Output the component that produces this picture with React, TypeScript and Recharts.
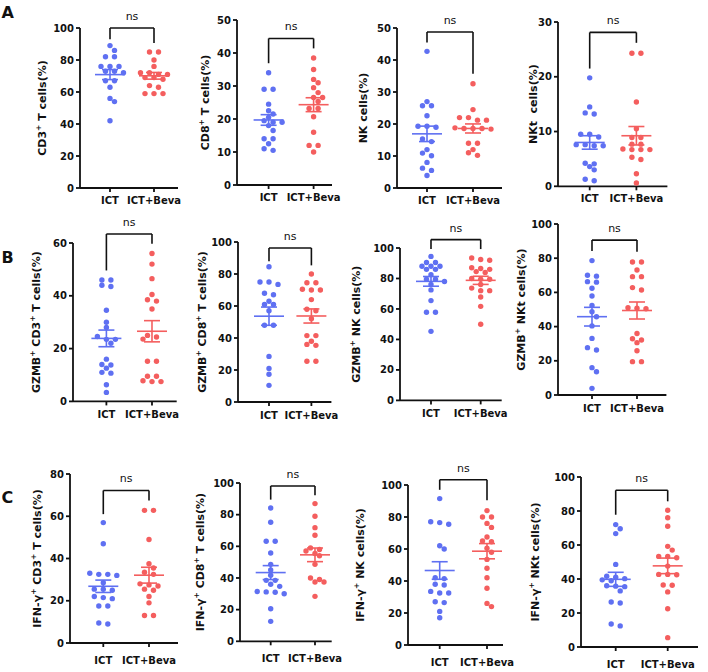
import React from 'react';
import { ScatterChart, Scatter, XAxis, YAxis, ReferenceLine } from 'recharts';

// ---- groups ----
const GROUPS = ['ICT', 'ICT+Beva'];

// ---- row A: lymphocyte subsets (%) ----
const cd3Ict = [89, 86, 82, 82, 76, 76, 76, 73, 73, 72, 67, 67, 63, 56, 54, 42];
const cd3Beva = [85, 85, 80, 76, 72, 72, 71, 71, 69, 69, 68, 64, 63, 59, 59, 59];
const cd8Ict = [34, 29, 29, 24.5, 22.5, 21.5, 20.5, 19.5, 19, 19, 18, 16.5, 14, 14, 12.5, 11, 10.5];
const cd8Beva = [38.5, 35, 32, 31, 29.5, 28, 26.5, 26.5, 25.3, 23.2, 23.2, 20.7, 16, 12, 12, 10];
const nkIct = [42.7, 27, 25.7, 25.7, 22.6, 19.3, 19.3, 19, 15.3, 14.5, 12, 10.9, 10.1, 8, 6.2, 5.5, 3.9];
const nkBeva = [32.6, 24.5, 22, 22, 21.2, 21.2, 18.8, 18.6, 18.6, 18.6, 18.4, 14, 14, 12, 11, 10.2];
const nktIct = [19.8, 14.5, 13.4, 13.2, 9.5, 9.5, 9, 7.6, 7.4, 7.4, 7.6, 4.2, 3.6, 4.1, 3, 1, 1.3];
const nktBeva = [24.3, 24.3, 15.4, 10.5, 8.9, 8.9, 7.7, 7.7, 6.7, 6.7, 6.8, 6.7, 5.3, 4.9, 2.3, 0.6];

// ---- row B: GZMB+ fractions (%) ----
const gzCd3Ict = [46, 46, 44, 43.5, 34.5, 30, 28, 24.6, 23.5, 23.5, 22, 16, 14, 13.8, 12.6, 11, 10.7, 6.3, 3.4];
const gzCd3Beva = [56, 52, 46.5, 40.5, 38.5, 38, 35, 25, 24.4, 23.6, 15.2, 15.2, 9.5, 9.5, 7.5, 7.8, 7.5];
const gzCd8Ict = [84.5, 75, 75, 73.5, 68, 67, 63, 61, 61, 57, 48, 48, 28.5, 21, 17.3, 10.4];
const gzCd8Beva = [80, 74.5, 74.5, 70, 70, 70.5, 64, 57, 58, 52, 41.5, 41.5, 38, 36, 35.4, 25.5, 25.5];
const gzNkIct = [94.5, 90.5, 90.5, 88, 88, 88, 86, 86, 82.5, 79.5, 79.5, 78, 76, 72.5, 65.5, 57.8, 57.8, 45.3];
const gzNkBeva = [93.4, 92.5, 92, 87, 86.5, 86, 84.5, 84, 80, 79.5, 79.5, 76, 73.7, 72, 72, 67.8, 61.7, 50];
const gzNktIct = [78.6, 70, 69.5, 66.3, 66, 62.4, 57.9, 52.4, 48.7, 45.8, 40.4, 33.1, 27.7, 26.3, 16, 13.6, 3.9];
const gzNktBeva = [77.8, 77.8, 73.1, 69.2, 69.2, 62.8, 61.4, 51, 50.7, 50.4, 36, 32.2, 32.9, 30.6, 25.9, 19.5, 19.5];

// ---- row C: IFN-γ+ fractions (%) ----
const ifCd3Ict = [57, 47, 33, 32.5, 32.5, 32, 28.5, 25.5, 25.5, 25, 21.5, 22, 21, 17.5, 17.5, 9, 9.5];
const ifCd3Beva = [62.8, 62.8, 49, 37.5, 35.5, 33.5, 32.5, 28, 27.5, 27, 25.5, 25, 22, 19, 13, 13];
const ifCd8Ict = [84.2, 75.2, 63.2, 63.2, 55.8, 48.6, 45, 41.7, 38.5, 38.5, 36, 34.7, 31.2, 30, 31, 31.5, 20.6, 12.6];
const ifCd8Beva = [87, 79, 71.8, 67, 58, 59, 57, 55.5, 54, 48.6, 40, 37.5, 37.5, 39, 28.4];
const ifNkIct = [91.5, 77, 76.5, 75.5, 62, 60, 42, 41.5, 38, 37.5, 32.5, 32.5, 33.5, 27, 26.5, 21, 17];
const ifNkBeva = [84, 80, 80, 76, 73.5, 67.5, 65, 64.5, 60.5, 58, 53.5, 48, 42, 35.5, 24, 26];
const ifNktIct = [72, 69.6, 66.7, 48.6, 41.6, 41, 40.2, 39.5, 39, 36, 35.5, 35.8, 33, 26.5, 25.9, 12.4, 13.5];
const ifNktBeva = [80.4, 76, 71, 57, 59.2, 53.3, 53.3, 52.5, 47.6, 42.7, 42.7, 42.5, 36.3, 36.5, 32.4, 22.5, 5.5];

// ---- axis ticks ----
const ticks100 = [0, 20, 40, 60, 80, 100];
const ticks80 = [0, 20, 40, 60, 80];
const ticks60 = [0, 20, 40, 60];
const ticks50 = [0, 10, 20, 30, 40, 50];
const ticks30 = [0, 10, 20, 30];

// comparison brackets: [bar level, left leg end, right leg end]
const bracketsA = [[100, 93, 90.6], [44.4, 36.9, 41.4], [48.75, 45.5, 35.7], [28.1, 21.5, 26.2]];
const bracketsB = [[63.4, 49.6, 59.7], [96.25, 87.9, 85.4], [105.5, 99.3, 99.3], [90.6, 84.2, 83.8]];
const bracketsC = [[72.2, 61, 67.5], [98.1, 89.5, 92.2], [103.3, 97, 90.4], [92.2, 77.8, 85.7]];

const PANELS = [
  { title: 'CD3⁺ T cells(%)', ticks: ticks100, ict: cd3Ict, beva: cd3Beva, bracket: bracketsA[0] },
  { title: 'CD8⁺ T cells(%)', ticks: ticks50, ict: cd8Ict, beva: cd8Beva, bracket: bracketsA[1] },
  { title: 'NK cells(%)', ticks: ticks50, ict: nkIct, beva: nkBeva, bracket: bracketsA[2] },
  { title: 'NKt  cells(%)', ticks: ticks30, ict: nktIct, beva: nktBeva, bracket: bracketsA[3] },
  { title: 'GZMB⁺ CD3⁺ T cells(%)', ticks: ticks60, ict: gzCd3Ict, beva: gzCd3Beva, bracket: bracketsB[0] },
  { title: 'GZMB⁺ CD8⁺ T cells(%)', ticks: ticks100, ict: gzCd8Ict, beva: gzCd8Beva, bracket: bracketsB[1] },
  { title: 'GZMB⁺ NK cells(%)', ticks: ticks100, ict: gzNkIct, beva: gzNkBeva, bracket: bracketsB[2] },
  { title: 'GZMB⁺ NKt cells(%)', ticks: ticks100, ict: gzNktIct, beva: gzNktBeva, bracket: bracketsB[3] },
  { title: 'IFN-γ⁺ CD3⁺ T cells(%)', ticks: ticks80, ict: ifCd3Ict, beva: ifCd3Beva, bracket: bracketsC[0] },
  { title: 'IFN-γ⁺ CD8⁺ T cells(%)', ticks: ticks100, ict: ifCd8Ict, beva: ifCd8Beva, bracket: bracketsC[1] },
  { title: 'IFN-γ⁺ NK cells(%)', ticks: ticks100, ict: ifNkIct, beva: ifNkBeva, bracket: bracketsC[2] },
  { title: 'IFN-γ⁺ NKt cells(%)', ticks: ticks100, ict: ifNktIct, beva: ifNktBeva, bracket: bracketsC[3] },
];

// page geometry of each panel (pixels): y-axis x, x-axis end, group centres, top tick, zero, title gap, x tick gap
const FRAMES = [
  { axisX: 80, rightX: 178, ictX: 110, bevaX: 154, topY: 28.3, zeroY: 188.3, titleGap: 38, tickGap: 4.5 },
  { axisX: 236.7, rightX: 331.7, ictX: 268.3, bevaX: 313.3, topY: 20, zeroY: 185, titleGap: 32, tickGap: 4.5 },
  { axisX: 396.7, rightX: 501.7, ictX: 426.7, bevaX: 472.7, topY: 28.3, zeroY: 188.3, titleGap: 34, tickGap: 4.5 },
  { axisX: 558.3, rightX: 667.7, ictX: 590, bevaX: 636.7, topY: 21.7, zeroY: 186, titleGap: 25, tickGap: 4.5 },
  { axisX: 73.3, rightX: 177, ictX: 106.7, bevaX: 152.3, topY: 243.3, zeroY: 401.7, titleGap: 37, tickGap: 5.5 },
  { axisX: 238.3, rightX: 331.7, ictX: 269.3, bevaX: 311.7, topY: 241.7, zeroY: 401.7, titleGap: 36, tickGap: 5.5 },
  { axisX: 400, rightX: 501.7, ictX: 431, bevaX: 480.7, topY: 248.3, zeroY: 400.7, titleGap: 44, tickGap: 5.5 },
  { axisX: 558.3, rightX: 666.7, ictX: 592.3, bevaX: 637.3, topY: 224, zeroY: 395, titleGap: 36.7, tickGap: 5.5 },
  { axisX: 70, rightX: 178, ictX: 103.3, bevaX: 149, topY: 474.3, zeroY: 643.3, titleGap: 33, tickGap: 10 },
  { axisX: 240, rightX: 331.7, ictX: 270.7, bevaX: 315, topY: 482.7, zeroY: 641, titleGap: 40, tickGap: 10 },
  { axisX: 408.3, rightX: 503.3, ictX: 440, bevaX: 487.3, topY: 485.3, zeroY: 645.3, titleGap: 48, tickGap: 10 },
  { axisX: 581, rightX: 698, ictX: 615.7, bevaX: 667.7, topY: 476.7, zeroY: 646.7, titleGap: 46, tickGap: 10 },
];

const LETTERS = [
  { text: 'A', left: 1.5, top: 4.8 },
  { text: 'B', left: 1.5, top: 249.8 },
  { text: 'C', left: 1.5, top: 490 },
];

const BLUE = '#5F70F2';
const RED = '#F45E5E';
const INK = '#111111';
const FONT = '"DejaVu Sans", "Liberation Sans", Arial, sans-serif';

const DOT_R = 2.7;
const STEP_PX = 9;
const ROW_PX = 3;
const MIN_DIST = 5;
const MEAN_HALF_PX = 15;
const SEM_HALF_PX = 8;

const M_TOP = 32;
const M_LEFT = 30;
const Y_W = 30;
const M_RIGHT = 32;
const X_H = 32;
const M_BOTTOM = 4;

// Prism-style dot layout: near-equal values share a row, spread symmetrically
function swarm(values: number[], pxPerY: number, pxPerX: number, center: number) {
  const sorted = [...values].sort((a, b) => b - a);
  const rows: number[][] = [];
  for (const v of sorted) {
    const last = rows[rows.length - 1];
    if (last && (last[0] - v) * pxPerY < ROW_PX) last.push(v);
    else rows.push([v]);
  }
  const placed: { dx: number; py: number }[] = [];
  const out: { x: number; y: number }[] = [];
  const s = STEP_PX;
  const h = s / 2;
  for (const row of rows) {
    const n = row.length;
    const layouts: number[][] = [];
    for (const spread of [1, 1.5, 2]) {
      const base = row.map((_, i) => (i - (n - 1) / 2) * s * spread);
      for (const shift of [0, h, -h, s, -s, 1.5 * s, -1.5 * s]) layouts.push(base.map((b) => b + shift));
    }
    const fits = (lay: number[]) =>
      lay.every((dx, i) => placed.every((p) => Math.hypot(p.dx - dx, p.py - row[i] * pxPerY) >= MIN_DIST));
    const chosen = layouts.find(fits) ?? layouts[0];
    chosen.forEach((dx, i) => {
      placed.push({ dx, py: row[i] * pxPerY });
      out.push({ x: center + dx / pxPerX, y: row[i] });
    });
  }
  return out;
}

function meanSem(v: number[]) {
  const n = v.length;
  const m = v.reduce((a, b) => a + b, 0) / n;
  const sd = Math.sqrt(v.reduce((a, b) => a + (b - m) ** 2, 0) / (n - 1));
  return { m, sem: sd / Math.sqrt(n) };
}

function YTitle({ text, posX, posY }: { text: string; posX: number; posY: number }) {
  const parts = text.split('⁺');
  const kids: React.ReactNode[] = [];
  parts.forEach((part, i) => {
    if (i > 0) kids.push(<tspan key={'s' + i} dy={-4} fontSize={7.5}>+</tspan>);
    kids.push(<tspan key={'t' + i} dy={i > 0 ? 4 : 0}>{part}</tspan>);
  });
  return (
    <text
      transform={`translate(${posX},${posY}) rotate(-90)`}
      x={0}
      y={0}
      textAnchor="middle"
      dominantBaseline="central"
      fontFamily={FONT}
      fontWeight={700}
      fontSize={11}
      fill={INK}
      style={{ whiteSpace: 'pre' }}
    >
      {kids}
    </text>
  );
}

function Panel({ p, f }: { p: (typeof PANELS)[number]; f: (typeof FRAMES)[number] }) {
  const yMax = p.ticks[p.ticks.length - 1];
  const plotW = f.rightX - f.axisX;
  const plotH = f.zeroY - f.topY;
  const pxPerX = f.bevaX - f.ictX;
  const pxPerY = plotH / yMax;
  const xMin = 1 - (f.ictX - f.axisX) / pxPerX;
  const xMax = 2 + (f.rightX - f.bevaX) / pxPerX;
  const width = M_LEFT + Y_W + plotW + M_RIGHT;
  const height = M_TOP + plotH + X_H + M_BOTTOM;

  const ictPts = swarm(p.ict, pxPerY, pxPerX, 1);
  const bevaPts = swarm(p.beva, pxPerY, pxPerX, 2);
  const meanHalf = MEAN_HALF_PX / pxPerX;
  const semHalf = SEM_HALF_PX / pxPerX;
  const [bTop, bLeft, bRight] = p.bracket;

  const summary: React.ReactNode[] = [];
  ([[1, p.ict, BLUE], [2, p.beva, RED]] as [number, number[], string][]).forEach(([g, vals, c]) => {
    const { m, sem } = meanSem(vals);
    const common = { stroke: c, strokeWidth: 1.6, ifOverflow: 'visible' as const };
    summary.push(
      <ReferenceLine key={`m${g}`} segment={[{ x: g - meanHalf, y: m }, { x: g + meanHalf, y: m }]} {...common} />,
      <ReferenceLine key={`u${g}`} segment={[{ x: g - semHalf, y: m + sem }, { x: g + semHalf, y: m + sem }]} {...common} />,
      <ReferenceLine key={`l${g}`} segment={[{ x: g - semHalf, y: m - sem }, { x: g + semHalf, y: m - sem }]} {...common} />,
      <ReferenceLine key={`v${g}`} segment={[{ x: g, y: m - sem }, { x: g, y: m + sem }]} {...common} />
    );
  });

  const axisStyle = { stroke: INK, strokeWidth: 1.8 };
  const tickFont = { fontSize: 10, fontWeight: 700, fill: INK, fontFamily: FONT };
  const bracketStyle = { stroke: INK, strokeWidth: 1.6, ifOverflow: 'visible' as const };

  return (
    <div style={{ position: 'absolute', left: f.axisX - M_LEFT - Y_W, top: f.topY - M_TOP, width, height }}>
      <ScatterChart width={width} height={height} margin={{ top: M_TOP, right: M_RIGHT, bottom: M_BOTTOM, left: M_LEFT }}>
        <XAxis
          type="number"
          dataKey="x"
          domain={[xMin, xMax]}
          allowDataOverflow
          ticks={[1, 2]}
          interval={0}
          tickFormatter={(v: number) => GROUPS[Math.round(v) - 1]}
          tickSize={4}
          tickMargin={f.tickGap}
          height={X_H}
          axisLine={axisStyle}
          tickLine={axisStyle}
          tick={tickFont}
        />
        <YAxis
          type="number"
          dataKey="y"
          domain={[0, yMax]}
          allowDataOverflow
          ticks={p.ticks}
          interval={0}
          width={Y_W}
          tickSize={4}
          tickMargin={2}
          axisLine={axisStyle}
          tickLine={axisStyle}
          tick={tickFont}
          label={<YTitle text={p.title} posX={M_LEFT + Y_W - f.titleGap} posY={M_TOP + plotH / 2} />}
        />
        <Scatter
          data={ictPts}
          isAnimationActive={false}
          shape={(s: any) => <circle cx={s.cx} cy={s.cy} r={DOT_R} fill={BLUE} />}
        />
        <Scatter
          data={bevaPts}
          isAnimationActive={false}
          shape={(s: any) => <circle cx={s.cx} cy={s.cy} r={DOT_R} fill={RED} />}
        />
        {summary}
        <ReferenceLine
          segment={[{ x: 1, y: bTop }, { x: 2, y: bTop }]}
          {...bracketStyle}
          label={{ value: 'ns', position: 'top', offset: 8, fontSize: 11, fill: INK, fontFamily: FONT }}
        />
        <ReferenceLine segment={[{ x: 1, y: bLeft }, { x: 1, y: bTop }]} {...bracketStyle} />
        <ReferenceLine segment={[{ x: 2, y: bRight }, { x: 2, y: bTop }]} {...bracketStyle} />
      </ScatterChart>
    </div>
  );
}

export default function App() {
  return (
    <div
      style={{
        position: 'absolute',
        left: 0,
        top: 0,
        width: 708,
        height: 672,
        background: '#ffffff',
        overflow: 'hidden',
        fontFamily: FONT,
      }}
    >
      {PANELS.map((p, i) => (
        <Panel key={i} p={p} f={FRAMES[i]} />
      ))}
      {LETTERS.map((l) => (
        <div
          key={l.text}
          style={{
            position: 'absolute',
            left: l.left,
            top: l.top,
            fontSize: 16,
            lineHeight: 1,
            fontWeight: 700,
            color: INK,
            fontFamily: FONT,
          }}
        >
          {l.text}
        </div>
      ))}
    </div>
  );
}
